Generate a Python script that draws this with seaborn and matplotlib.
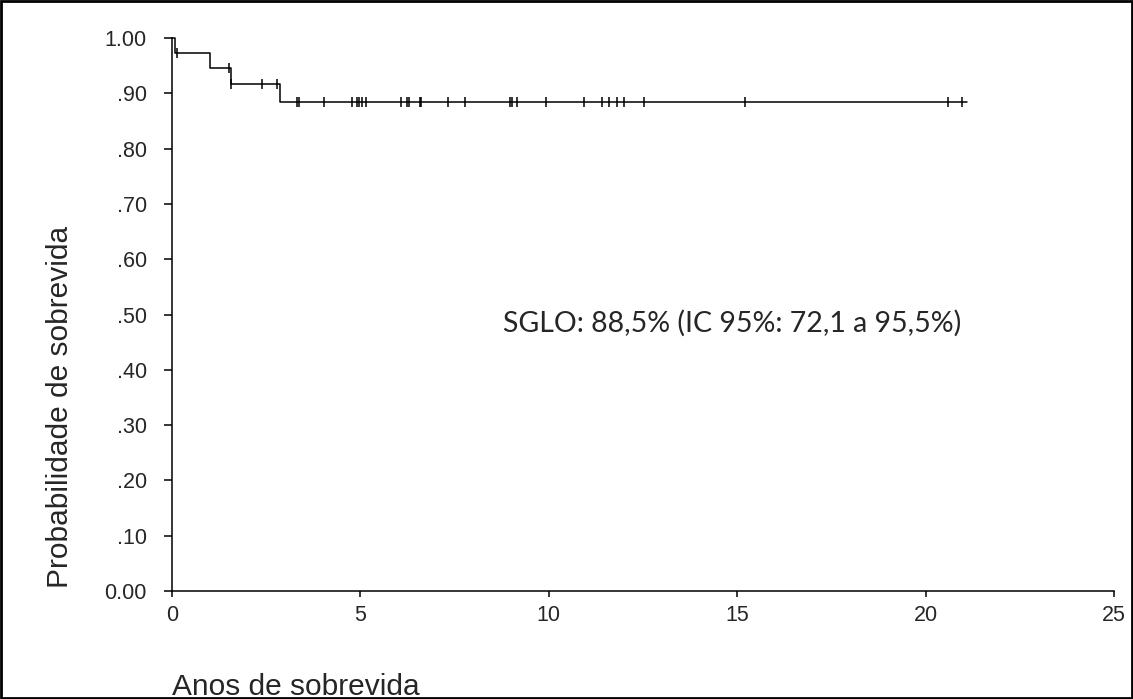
import matplotlib
matplotlib.use("Agg")
import matplotlib.pyplot as plt
import matplotlib.patches as patches
import numpy as np
import pandas as pd
import seaborn as sns

# Kaplan-Meier step values
step_times = [0.0, 0.08, 1.0, 1.57, 2.87, 21.09]
step_surv = [1.0, 0.973, 0.946, 0.917, 0.885, 0.885]

# censored observations (years)
censor_times = [0.125, 1.5, 1.57, 2.40, 2.80, 3.33, 3.38, 4.03, 4.77, 4.90, 4.95,
                5.05, 5.14, 6.07, 6.24, 6.30, 6.57, 6.62, 7.32, 7.78, 8.98, 9.03,
                9.16, 9.92, 10.94, 11.40, 11.59, 11.82, 12.00, 12.52, 15.21,
                20.59, 20.96]

y_ticks = [0.0, 0.1, 0.2, 0.3, 0.4, 0.5, 0.6, 0.7, 0.8, 0.9, 1.0]
y_ticklabels = ["0.00", ".10", ".20", ".30", ".40", ".50", ".60", ".70", ".80", ".90", "1.00"]
x_ticks = [0, 5, 10, 15, 20, 25]

annot = "SGLO: 88,5% (IC 95%: 72,1 a 95,5%)"

df_steps = pd.DataFrame({"t": step_times, "s": step_surv})
# survival level at each censor time (step lookup)
idx = np.searchsorted(step_times, censor_times, side="right") - 1
df_cens = pd.DataFrame({"t": censor_times, "s": np.array(step_surv)[idx]})

sns.set_style("ticks")
plt.rcParams["font.family"] = ["Liberation Sans", "DejaVu Sans"]

fig = plt.figure(figsize=(11.33, 6.99), dpi=100)
ax = fig.add_axes([0.1518, 0.1545, 0.8314, 0.7911])

sns.lineplot(data=df_steps, x="t", y="s", drawstyle="steps-post", color="black",
             linewidth=1.1, ax=ax, clip_on=False, sort=False)
sns.scatterplot(data=df_cens, x="t", y="s", marker="|", s=60, color="black",
                linewidth=1.1, ax=ax, clip_on=False, zorder=3)

ax.set_xlim(0, 25)
ax.set_ylim(0, 1)
ax.set_xticks(x_ticks)
ax.set_xticklabels([str(v) for v in x_ticks], fontsize=15.5)
ax.set_yticks(y_ticks)
ax.set_yticklabels(y_ticklabels, fontsize=15.5)
ax.tick_params(axis="y", direction="out", length=6, width=1.1, color="black", pad=12)
ax.tick_params(axis="x", direction="out", length=4, width=1.1, color="black", pad=6)
for side in ["top", "right"]:
    ax.spines[side].set_visible(False)
for side in ["left", "bottom"]:
    ax.spines[side].set_linewidth(1.1)
    ax.spines[side].set_color("black")

ax.set_xlabel("")
ax.set_ylabel("")
fig.text(60 / 1133, 1 - 588 / 699, "Probabilidade de sobrevida", fontsize=21.5,
         rotation=90, ha="center", va="bottom")
fig.text(172 / 1133, 1 - 695 / 699, "Anos de sobrevida", fontsize=21.5,
         ha="left", va="baseline")

ax.text(8.78, 0.468, annot, fontsize=20.5, family=["Lato", "DejaVu Sans"],
        ha="left", va="baseline")

fig.patches.append(patches.Rectangle((0.001, 0.001), 0.998, 0.998, transform=fig.transFigure,
                                     fill=False, edgecolor="black", linewidth=2))

fig.savefig("out.png", dpi=100)
